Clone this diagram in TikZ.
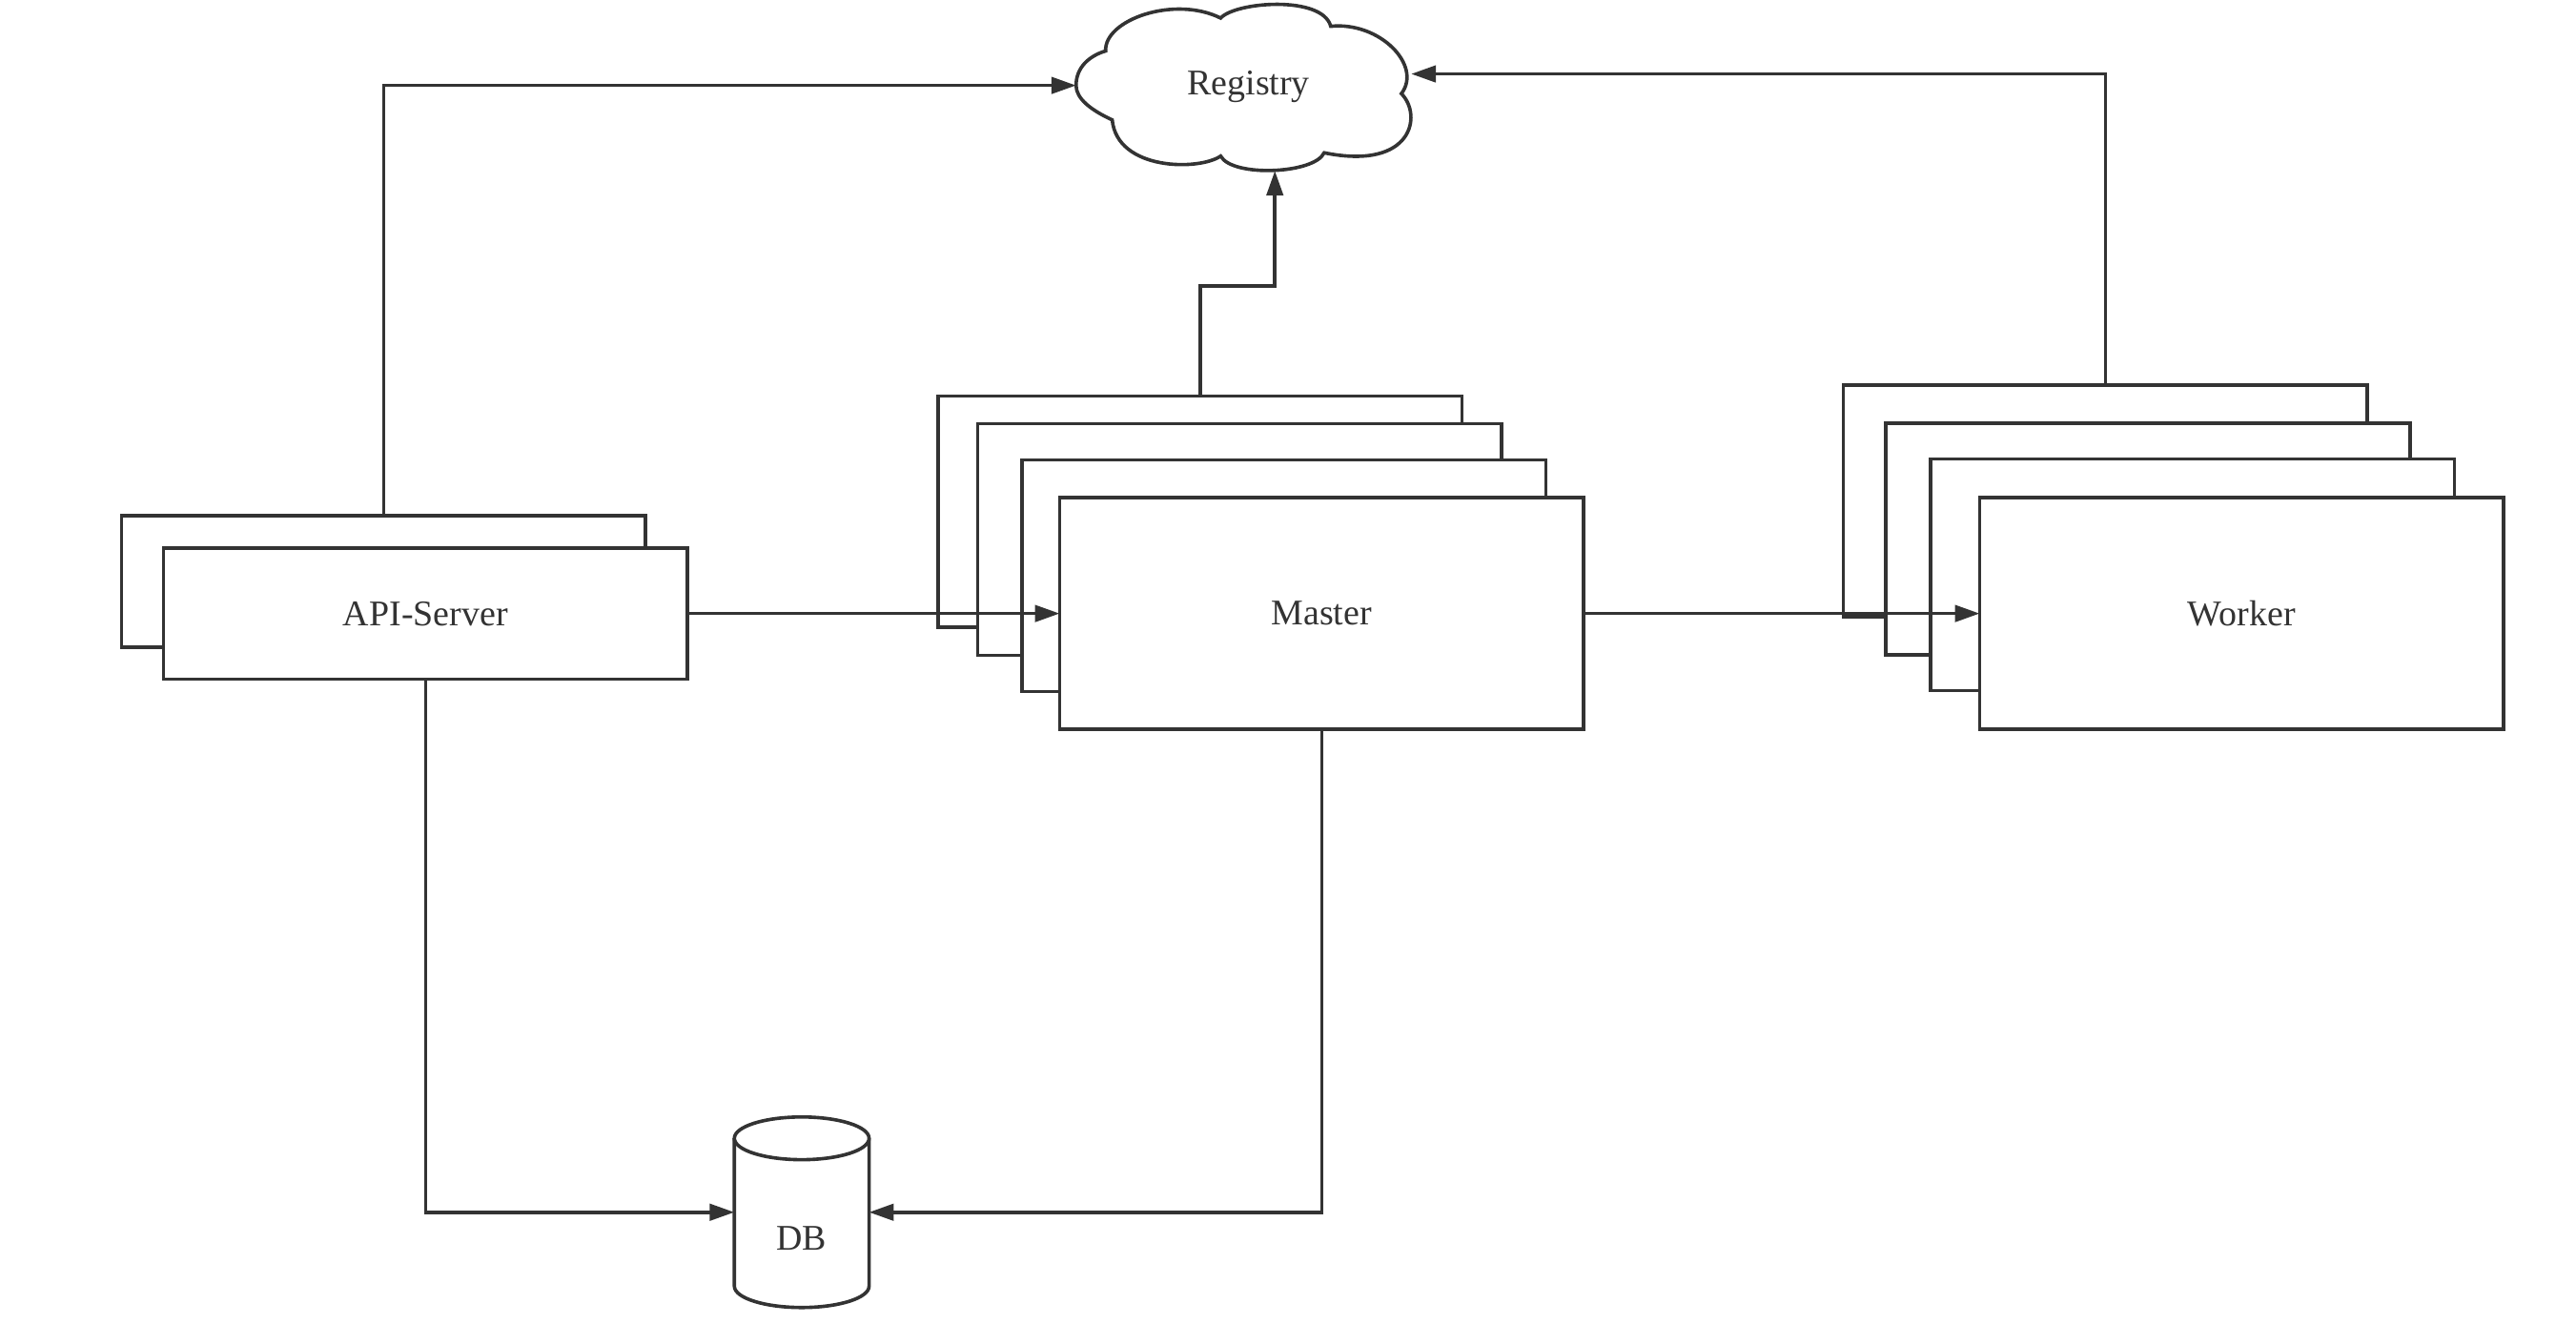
\documentclass[tikz,border=0pt]{standalone}
\usepackage{fontspec}
\setmainfont{Liberation Serif}
\usetikzlibrary{arrows.meta}
\definecolor{ink}{RGB}{51,51,51}
\begin{document}
\begin{tikzpicture}[x=0.5pt,y=-0.5pt,color=ink,line width=1.05pt,
  font=\fontsize{11}{13}\selectfont,
  box/.style={draw,fill=white,minimum width=159.5pt,minimum height=70.5pt,inner sep=0pt,outer sep=0pt},
  apibox/.style={box,minimum height=40pt},
  conn/.style={-{Triangle[length=7.5pt,width=5pt]}},
  lbl/.style={inner sep=0pt}]
\useasboundingbox (0,0) rectangle (1568,805.5);

% Registry cloud
\draw[fill=white] (655,52) .. controls (655,41) and (663,34) .. (673,31)
 .. controls (672,12) and (715,-3) .. (743,11)
 .. controls (752,1) and (805,-3) .. (810,16)
 .. controls (840,13) and (866,40) .. (853,57)
 .. controls (866,70) and (860,104) .. (806,93)
 .. controls (800,106) and (750,108) .. (743,95)
 .. controls (730,104) and (680,104) .. (677,73)
 .. controls (664,67) and (655,60) .. (655,52) -- cycle;
\node[lbl] (reg) at (760,53) {Registry};
\coordinate (regW) at (655,52);
\coordinate (regS) at (776,104);
\coordinate (regE) at (859,45);

% API-Server
\node[apibox] (apiB) at (233.5,354) {};
\node[apibox] (apiF) at (259,373.5) {API-Server};

% Master
\node[box] (mB1) at (730.5,311.5) {};
\node[box] (mB2) at (754.5,328.5) {};
\node[box] (mB3) at (781.5,350.5) {};
\node[box] (mF) at (804.5,373.5) {Master};

% Worker
\node[box] (wB1) at (1281.5,305) {};
\node[box] (wB2) at (1307.5,328) {};
\node[box] (wB3) at (1334.5,350) {};
\node[box] (wF) at (1364.5,373.5) {Worker};

% DB cylinder
\node[minimum width=41pt,minimum height=58pt,inner sep=0pt,outer sep=0pt] (db) at (488,738) {};
\draw[fill=white] (447,693) -- (447,783) .. controls (447,790.2) and (465.4,796) .. (488,796)
  .. controls (510.6,796) and (529,790.2) .. (529,783) -- (529,693);
\draw[fill=white] (488,693) ellipse [x radius=20.5pt, y radius=6.5pt];
\node[lbl] (dbtext) at (488,754) {DB};

% connectors
\draw[conn] (apiB.north) |- (regW);
\draw[conn] (mB1.north) -- ++(0,-67) -| (regS);
\draw[conn] (wB1.north) |- (regE);
\draw[conn] (apiF.east) -- (mF.west);
\draw[conn] (mF.east) -- (wF.west);
\draw[conn] (apiF.south) |- (db.west);
\draw[conn] (mF.south) |- (db.east);
\end{tikzpicture}
\end{document}
